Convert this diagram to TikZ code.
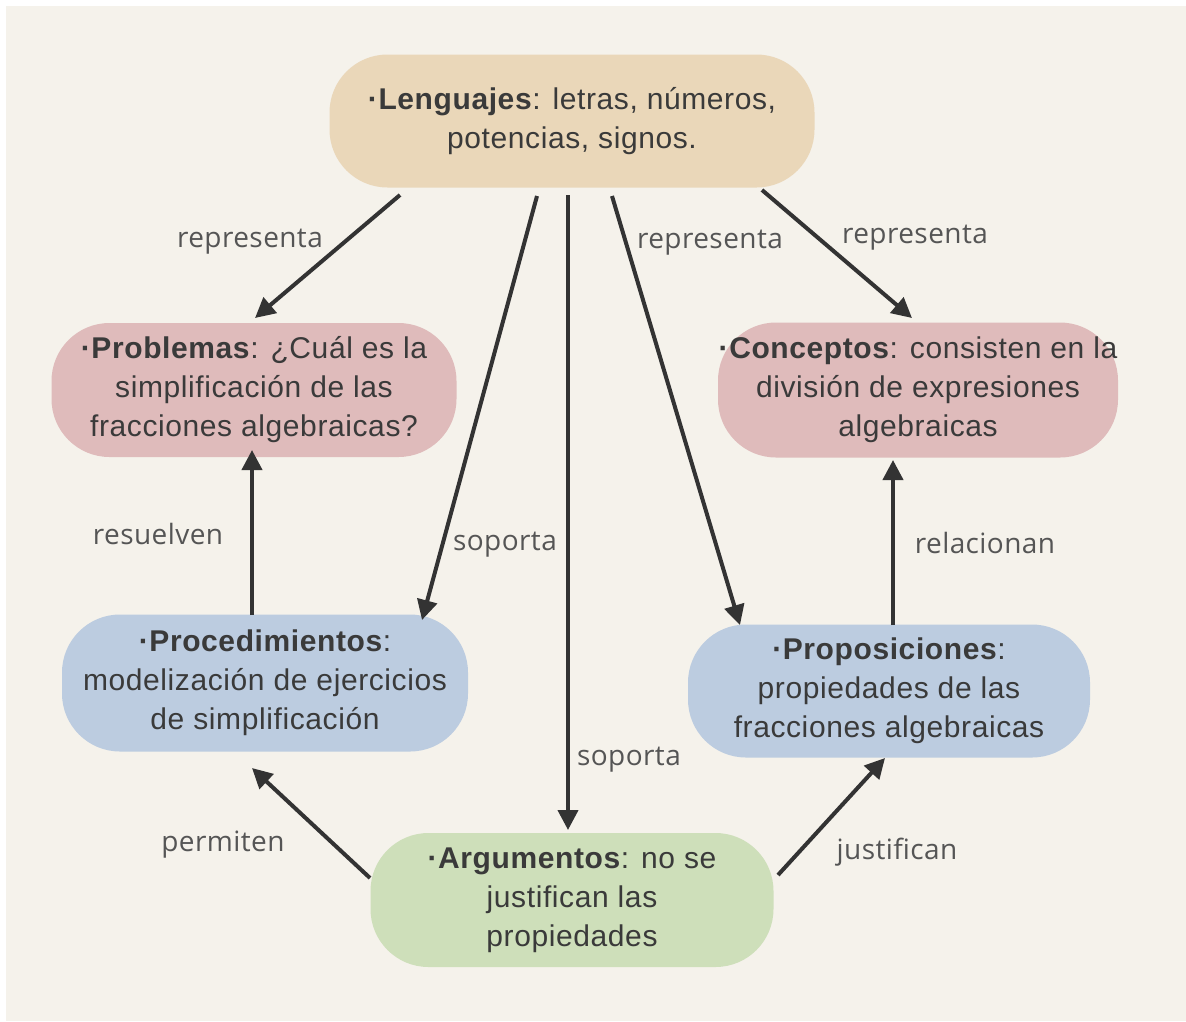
\documentclass[tikz,border=0pt]{standalone}
\usepackage{fontspec}
\setmainfont[LetterSpace=2]{Liberation Sans}
\newfontfamily\labelfont[LetterSpace=1.5]{Open Sans}
\usetikzlibrary{arrows.meta,calc}

\definecolor{pagebg}{HTML}{F5F2EB}
\definecolor{tanfill}{HTML}{EAD7B9}
\definecolor{rosefill}{HTML}{DFBBBB}
\definecolor{bluefill}{HTML}{BCCCE0}
\definecolor{greenfill}{HTML}{CEDFBA}
\definecolor{inktext}{HTML}{3A3A3A}
\definecolor{labeltext}{HTML}{555555}
\definecolor{arrowink}{HTML}{333333}

\tikzset{
  concept/.style={rounded corners=58pt, inner sep=0pt, align=center,
    text=inktext, font=\fontsize{30}{39}\selectfont},
  linklabel/.style={text=labeltext, inner sep=0pt,
    font=\labelfont\fontsize{28}{32}\selectfont},
  link/.style={draw=arrowink, line width=4pt,
    -{Triangle[length=20pt,width=20pt]}}
}

\begin{document}
\begin{tikzpicture}[x=1pt,y=-1pt]
  \useasboundingbox (0,0) rectangle (1186,1021);
  \fill[white] (0,0) rectangle (1186,1021);
  \fill[pagebg] (6,6) rectangle (1186,1021);

  % concept boxes
  \node[concept, fill=tanfill, minimum width=485pt, minimum height=133pt]
    (leng) at (572,121) {\textbf{·Lenguajes}: letras, números,\\potencias, signos.};
  \node[concept, fill=rosefill, minimum width=405pt, minimum height=134pt]
    (prob) at (254,390) {\textbf{·Problemas}: ¿Cuál es la\\simplificación de las\\fracciones algebraicas?};
  \node[concept, fill=rosefill, minimum width=400pt, minimum height=135pt]
    (conc) at (918,390) {\textbf{·Conceptos}: consisten en la\\división de expresiones\\algebraicas};
  \node[concept, fill=bluefill, minimum width=406pt, minimum height=137pt]
    (proc) at (265,683) {\textbf{·Procedimientos}:\\modelización de ejercicios\\de simplificación};
  \node[concept, fill=bluefill, minimum width=402pt, minimum height=133pt]
    (prop) at (889,691) {\textbf{·Proposiciones}:\\propiedades de las\\fracciones algebraicas};
  \node[concept, fill=greenfill, minimum width=403pt, minimum height=134pt]
    (argu) at (572,900) {\textbf{·Argumentos}: no se\\justifican las\\propiedades};

  % connectors
  \draw[link] ($(leng)+(-172,74)$) -- ($(prob)+(1,-72)$);
  \draw[link] ($(leng)+(-35,75)$) -- ($(proc)+(157,-63)$);
  \draw[link] ($(leng)+(-4,74)$) -- ($(argu)+(-4,-70)$);
  \draw[link] ($(leng)+(40,75)$) -- ($(prop)+(-149,-66)$);
  \draw[link] ($(leng)+(190,69)$) -- ($(conc)+(-6,-72)$);
  \draw[link] ($(proc)+(-13,-68)$) -- ($(prob)+(-2,60)$);
  \draw[link] ($(prop)+(4,-66)$) -- ($(conc)+(-25,70)$);
  \draw[link] ($(argu)+(-202,-22)$) -- ($(proc)+(-13,85)$);
  \draw[link] ($(argu)+(206,-25)$) -- ($(prop)+(-4,67)$);

  % connector labels
  \node[linklabel] (l1) at (250,242) {representa};
  \node[linklabel] (l2) at (710,243) {representa};
  \node[linklabel] (l3) at (915,238) {representa};
  \node[linklabel] (l4) at (505,545) {soporta};
  \node[linklabel] (l5) at (629,760) {soporta};
  \node[linklabel] (l6) at (158,534) {resuelven};
  \node[linklabel] (l7) at (985,543) {relacionan};
  \node[linklabel] (l8) at (223,845) {permiten};
  \node[linklabel] (l9) at (897,852) {justifican};
\end{tikzpicture}
\end{document}
